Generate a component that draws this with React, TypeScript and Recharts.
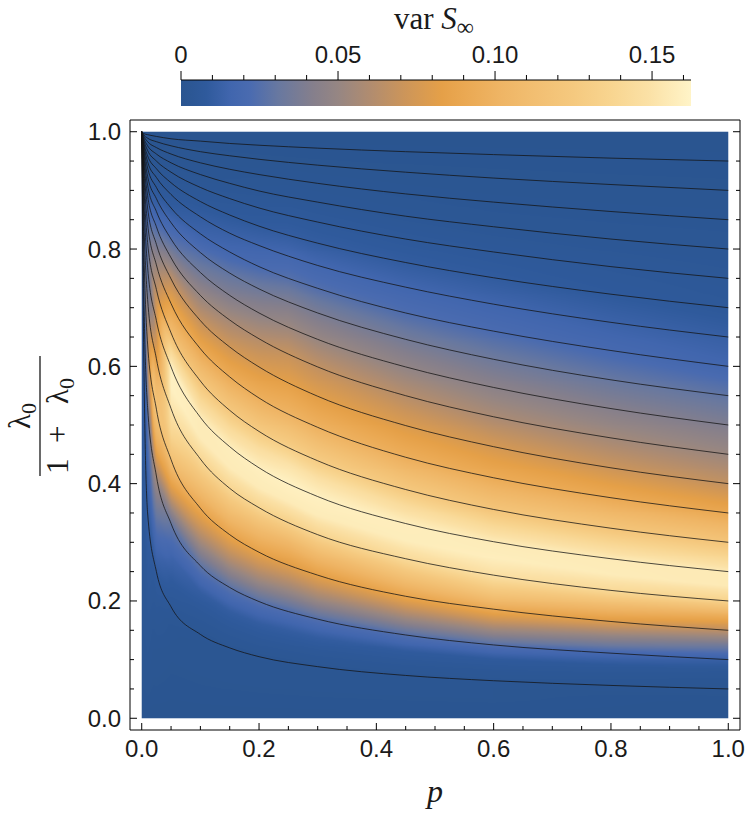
import React, { useMemo } from 'react';
import { ComposedChart, Line, XAxis, YAxis, ReferenceArea } from 'recharts';

const P_SAMPLES = [0, 0.003, 0.01, 0.025, 0.05, 0.1, 0.15, 0.2, 0.3, 0.45, 0.6, 0.8, 1.0];

// contour lines, labelled by where they meet p = 1
const LEVELS = [0.05, 0.1, 0.15, 0.2, 0.25, 0.3, 0.35, 0.4, 0.45, 0.5, 0.55, 0.6, 0.65, 0.7, 0.75, 0.8, 0.85, 0.9, 0.95];
const CONTOUR_Y = [
  [1, 0.66, 0.35, 0.25, 0.19, 0.143, 0.12, 0.105, 0.088, 0.073, 0.064, 0.056, 0.05],
  [1, 0.76, 0.53, 0.413, 0.332, 0.26, 0.223, 0.199, 0.169, 0.142, 0.125, 0.111, 0.1],
  [1, 0.83, 0.638, 0.527, 0.441, 0.358, 0.313, 0.283, 0.244, 0.208, 0.186, 0.165, 0.15],
  [1, 0.87, 0.714, 0.613, 0.528, 0.442, 0.392, 0.359, 0.313, 0.272, 0.244, 0.218, 0.2],
  [1, 0.9, 0.769, 0.678, 0.599, 0.513, 0.463, 0.427, 0.378, 0.332, 0.301, 0.272, 0.25],
  [1, 0.92, 0.811, 0.731, 0.657, 0.575, 0.525, 0.489, 0.439, 0.39, 0.356, 0.324, 0.3],
  [1, 0.935, 0.843, 0.773, 0.707, 0.63, 0.582, 0.546, 0.496, 0.445, 0.41, 0.376, 0.35],
  [1, 0.945, 0.87, 0.808, 0.749, 0.678, 0.633, 0.599, 0.549, 0.499, 0.463, 0.427, 0.4],
  [1, 0.955, 0.891, 0.838, 0.785, 0.721, 0.679, 0.647, 0.599, 0.55, 0.514, 0.478, 0.45],
  [1, 0.963, 0.909, 0.864, 0.817, 0.76, 0.721, 0.691, 0.646, 0.599, 0.564, 0.528, 0.5],
  [1, 0.97, 0.924, 0.886, 0.845, 0.794, 0.759, 0.732, 0.691, 0.646, 0.612, 0.577, 0.55],
  [1, 0.975, 0.938, 0.905, 0.87, 0.826, 0.795, 0.77, 0.733, 0.691, 0.66, 0.627, 0.6],
  [1, 0.98, 0.949, 0.922, 0.893, 0.855, 0.827, 0.806, 0.772, 0.735, 0.706, 0.675, 0.65],
  [1, 0.983, 0.959, 0.937, 0.913, 0.881, 0.858, 0.839, 0.81, 0.777, 0.751, 0.723, 0.7],
  [1, 0.987, 0.968, 0.95, 0.931, 0.905, 0.886, 0.87, 0.846, 0.817, 0.795, 0.77, 0.75],
  [1, 0.99, 0.976, 0.962, 0.947, 0.927, 0.912, 0.899, 0.88, 0.856, 0.838, 0.817, 0.8],
  [1, 0.993, 0.983, 0.973, 0.962, 0.947, 0.936, 0.927, 0.912, 0.894, 0.88, 0.864, 0.85],
  [1, 0.995, 0.989, 0.983, 0.976, 0.966, 0.959, 0.953, 0.943, 0.931, 0.921, 0.91, 0.9],
  [1, 0.997, 0.995, 0.992, 0.988, 0.984, 0.98, 0.977, 0.972, 0.966, 0.961, 0.955, 0.95],
];

// var S_inf, read band by band (c = contour coordinate) at a few p columns
const C_GRID = [0, 0.025, 0.04, 0.05, 0.065, 0.08, 0.1, 0.125, 0.15, 0.175, 0.2, 0.225, 0.25, 0.275, 0.3, 0.35, 0.4, 0.45, 0.5, 0.6, 0.7, 0.8, 0.9, 1.0];
const P_GRID = [0, 0.02, 0.05, 0.1, 0.25, 0.6, 1.0];
const varAtP0 = [0, 0.006, 0.012, 0.01, 0.008, 0.006, 0.005, 0.004, 0.004, 0.003, 0.003, 0.003, 0.002, 0.002, 0.002, 0.002, 0.001, 0.001, 0.001, 0.001, 0, 0, 0, 0];
const varAtP002 = [0, 0.002, 0.005, 0.01, 0.02, 0.035, 0.06, 0.1, 0.12, 0.1, 0.07, 0.055, 0.055, 0.06, 0.055, 0.045, 0.03, 0.02, 0.012, 0.005, 0.002, 0.001, 0, 0];
const varAtP005 = [0, 0.001, 0.002, 0.004, 0.008, 0.015, 0.03, 0.075, 0.115, 0.138, 0.152, 0.16, 0.16, 0.14, 0.11, 0.085, 0.065, 0.042, 0.025, 0.009, 0.004, 0.002, 0.001, 0];
const varAtP01 = [0, 0.001, 0.001, 0.002, 0.005, 0.01, 0.028, 0.06, 0.09, 0.115, 0.14, 0.156, 0.156, 0.14, 0.12, 0.09, 0.068, 0.05, 0.035, 0.014, 0.006, 0.002, 0.001, 0];
const varAtP025 = [0, 0.001, 0.001, 0.002, 0.005, 0.01, 0.025, 0.055, 0.082, 0.105, 0.135, 0.156, 0.16, 0.15, 0.13, 0.1, 0.082, 0.068, 0.052, 0.025, 0.01, 0.004, 0.001, 0];
const varAtP06 = [0, 0.001, 0.001, 0.002, 0.004, 0.008, 0.025, 0.058, 0.092, 0.122, 0.148, 0.158, 0.156, 0.14, 0.12, 0.093, 0.075, 0.058, 0.045, 0.022, 0.009, 0.003, 0.001, 0];
const varAtP1 = [0, 0, 0.001, 0.001, 0.002, 0.004, 0.012, 0.035, 0.065, 0.095, 0.135, 0.155, 0.155, 0.138, 0.12, 0.09, 0.067, 0.052, 0.04, 0.017, 0.006, 0.003, 0.001, 0];
const VAR_COLUMNS = [varAtP0, varAtP002, varAtP005, varAtP01, varAtP025, varAtP06, varAtP1];

// colour scale of the legend
const CMAP_VALUES = [0, 0.008, 0.016, 0.022, 0.031, 0.042, 0.05, 0.06, 0.071, 0.083, 0.09, 0.102, 0.113, 0.125, 0.137, 0.149, 0.1624];
const CMAP_COLORS = ['#2a5590', '#2f5a9c', '#4166ae', '#4a6bb0', '#6878a0', '#857f8c', '#968683', '#b08c70', '#cc955a', '#e5a048', '#eaa852', '#efb565', '#f2bf72', '#f5c97f', '#f8d590', '#fbe1a6', '#fff4c8'];
const CBAR_MAX = 0.1624;
const CBAR_TICKS = [0, 0.01, 0.02, 0.03, 0.04, 0.05, 0.06, 0.07, 0.08, 0.09, 0.1, 0.11, 0.12, 0.13, 0.14, 0.15, 0.16];
const CBAR_LABELS = [{ v: 0, t: '0' }, { v: 0.05, t: '0.05' }, { v: 0.1, t: '0.10' }, { v: 0.15, t: '0.15' }];

const AXIS_TICKS = [0, 0.05, 0.1, 0.15, 0.2, 0.25, 0.3, 0.35, 0.4, 0.45, 0.5, 0.55, 0.6, 0.65, 0.7, 0.75, 0.8, 0.85, 0.9, 0.95, 1.0];

const SANS = '"Liberation Sans", Arial, sans-serif';
const SERIF = '"Liberation Serif", "Times New Roman", serif';

const hexToRgb = (h: string) => {
  const n = parseInt(h.slice(1), 16);
  return [(n >> 16) & 255, (n >> 8) & 255, n & 255];
};
const CMAP_RGB = CMAP_COLORS.map(hexToRgb);

function interp1(xs: number[], ys: number[], x: number) {
  if (x <= xs[0]) return ys[0];
  const n = xs.length;
  if (x >= xs[n - 1]) return ys[n - 1];
  let i = 1;
  while (xs[i] < x) i++;
  const t = (x - xs[i - 1]) / (xs[i] - xs[i - 1]);
  return ys[i - 1] + t * (ys[i] - ys[i - 1]);
}

function colorFor(v: number) {
  return [0, 1, 2].map(k => interp1(CMAP_VALUES, CMAP_RGB.map(c => c[k]), v));
}

function buildHeatmap(w: number, h: number) {
  const canvas = document.createElement('canvas');
  canvas.width = w;
  canvas.height = h;
  const ctx = canvas.getContext('2d');
  if (!ctx) return '';
  const img = ctx.createImageData(w, h);
  for (let i = 0; i < w; i++) {
    const p = (i + 0.5) / w;
    const bounds = [0, ...CONTOUR_Y.map(ys => interp1(P_SAMPLES, ys, p)), 1];
    const colVals = C_GRID.map((_, r) => interp1(P_GRID, VAR_COLUMNS.map(col => col[r]), p));
    for (let j = 0; j < h; j++) {
      const y = 1 - (j + 0.5) / h;
      let k = 0;
      while (k < bounds.length - 2 && y > bounds[k + 1]) k++;
      const span = bounds[k + 1] - bounds[k];
      const c = (k + (span > 0 ? (y - bounds[k]) / span : 0)) * 0.05;
      const [r, g, b] = colorFor(interp1(C_GRID, colVals, c));
      const idx = (j * w + i) * 4;
      img.data[idx] = r;
      img.data[idx + 1] = g;
      img.data[idx + 2] = b;
      img.data[idx + 3] = 255;
    }
  }
  ctx.putImageData(img, 0, 0);
  return canvas.toDataURL('image/png');
}

const isMajor = (v: number) => Math.abs(v * 5 - Math.round(v * 5)) < 1e-6;

const BottomTick = (props: any) => {
  const { x, y, payload } = props;
  const major = isMajor(payload.value);
  return (
    <g>
      <line x1={x} x2={x} y1={y} y2={y - (major ? 7 : 4)} stroke="#000" />
      {major && (
        <text x={x} y={y + 27} textAnchor="middle" fontFamily={SANS} fontSize={24} fill="#1a1a1a">
          {payload.value.toFixed(1)}
        </text>
      )}
    </g>
  );
};

const TopTick = (props: any) => {
  const { x, y, payload } = props;
  return <line x1={x} x2={x} y1={y} y2={y + (isMajor(payload.value) ? 7 : 4)} stroke="#000" />;
};

const LeftTick = (props: any) => {
  const { x, y, payload } = props;
  const major = isMajor(payload.value);
  return (
    <g>
      <line x1={x} x2={x + (major ? 7 : 4)} y1={y} y2={y} stroke="#000" />
      {major && (
        <text x={x - 9} y={y + 8.5} textAnchor="end" fontFamily={SANS} fontSize={24} fill="#1a1a1a">
          {payload.value.toFixed(1)}
        </text>
      )}
    </g>
  );
};

const RightTick = (props: any) => {
  const { x, y, payload } = props;
  return <line x1={x} x2={x - (isMajor(payload.value) ? 7 : 4)} y1={y} y2={y} stroke="#000" />;
};

const lineData = CONTOUR_Y.map(ys => P_SAMPLES.map((p, i) => ({ p, y: ys[i] })));

const CB_LEFT = 181;
const CB_RIGHT = 691;
const CB_TOP = 80;
const CB_H = 26;
const cbX = (v: number) => CB_LEFT + (v / CBAR_MAX) * (CB_RIGHT - CB_LEFT);

export default function App() {
  const heatmap = useMemo(() => buildHeatmap(600, 600), []);

  return (
    <div style={{ position: 'absolute', left: 0, top: 0, width: 747, height: 819, background: '#fff' }}>
      <ComposedChart width={747} height={819} margin={{ top: 110, right: 0, bottom: 29, left: 0 }}>
        <XAxis xAxisId="b" type="number" dataKey="p" domain={[-0.02, 1.02]} allowDataOverflow ticks={AXIS_TICKS}
          interval={0} tickSize={0} tickMargin={0} tickLine={false} tick={BottomTick} height={60}
          axisLine={{ stroke: '#000' }} />
        <XAxis xAxisId="t" orientation="top" type="number" domain={[-0.02, 1.02]} allowDataOverflow ticks={AXIS_TICKS}
          interval={0} tickSize={0} tickMargin={0} tickLine={false} tick={TopTick} height={10}
          axisLine={{ stroke: '#000' }} />
        <YAxis yAxisId="l" type="number" domain={[-0.02, 1.02]} allowDataOverflow ticks={AXIS_TICKS}
          interval={0} tickSize={0} tickMargin={0} tickLine={false} tick={LeftTick} width={130}
          axisLine={{ stroke: '#000' }} />
        <YAxis yAxisId="r" orientation="right" type="number" domain={[-0.02, 1.02]} allowDataOverflow ticks={AXIS_TICKS}
          interval={0} tickSize={0} tickMargin={0} tickLine={false} tick={RightTick} width={7}
          axisLine={{ stroke: '#000' }} />
        <ReferenceArea xAxisId="b" yAxisId="l" x1={0} x2={1} y1={0} y2={1}
          shape={(s: any) => (
            <image href={heatmap} x={s.x} y={s.y} width={s.width} height={s.height} preserveAspectRatio="none" />
          )} />
        {lineData.map((d, i) => (
          <Line key={LEVELS[i]} data={d} dataKey="y" xAxisId="b" yAxisId="l" type="monotone" dot={false}
            activeDot={false} stroke="#141414" strokeWidth={0.9} strokeOpacity={0.85} isAnimationActive={false} />
        ))}
      </ComposedChart>

      <svg width={747} height={819} style={{ position: 'absolute', left: 0, top: 0, pointerEvents: 'none' }}>
        <defs>
          <linearGradient id="cbar" x1="0" x2="1" y1="0" y2="0">
            {CMAP_VALUES.map((v, i) => (
              <stop key={i} offset={v / CBAR_MAX} stopColor={CMAP_COLORS[i]} />
            ))}
          </linearGradient>
        </defs>
        <text x={434} y={29} textAnchor="middle" fontFamily={SERIF} fontSize={31} fill="#1a1a1a">
          var <tspan fontStyle="italic">S</tspan>
          <tspan fontSize={24} dy={6}>∞</tspan>
        </text>
        <rect x={CB_LEFT} y={CB_TOP} width={CB_RIGHT - CB_LEFT} height={CB_H} fill="url(#cbar)" />
        <line x1={CB_LEFT} x2={CB_RIGHT} y1={CB_TOP} y2={CB_TOP} stroke="#000" />
        {CBAR_TICKS.map(v => {
          const major = CBAR_LABELS.some(l => Math.abs(l.v - v) < 1e-9);
          return <line key={v} x1={cbX(v)} x2={cbX(v)} y1={CB_TOP} y2={CB_TOP - (major ? 9 : 5)} stroke="#000" />;
        })}
        {CBAR_LABELS.map(l => (
          <text key={l.t} x={cbX(l.v)} y={CB_TOP - 17} textAnchor="middle" fontFamily={SANS} fontSize={24} fill="#1a1a1a">
            {l.t}
          </text>
        ))}
        <g transform="translate(40,416) rotate(-90)" fontFamily={SERIF} fill="#1a1a1a">
          <text x={0} y={-10} textAnchor="middle" fontSize={31}>
            λ<tspan fontSize={22} dy={6}>0</tspan>
          </text>
          <line x1={-60} x2={60} y1={0} y2={0} stroke="#1a1a1a" strokeWidth={1.3} />
          <text y={28} fontSize={31}>
            <tspan x={-58}>1</tspan>
            <tspan x={-27}>+</tspan>
            <tspan x={12}>λ</tspan>
            <tspan fontSize={22} dy={6}>0</tspan>
          </text>
        </g>
        <text x={435} y={802} textAnchor="middle" fontFamily={SERIF} fontStyle="italic" fontSize={32} fill="#1a1a1a">
          p
        </text>
      </svg>
    </div>
  );
}
